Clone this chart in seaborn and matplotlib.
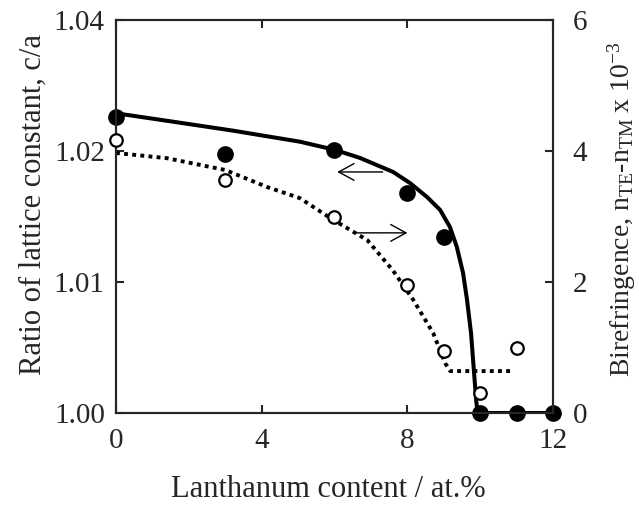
import matplotlib
matplotlib.use("Agg")
import matplotlib.pyplot as plt
import seaborn as sns
import pandas as pd

# --- data ---
la_pts = [0, 3, 6, 8, 9, 10, 11, 12]
ca_pts = [1.0226, 1.0198, 1.0201, 1.0168, 1.0134, 1.000, 1.000, 1.000]

la_open = [0, 3, 6, 8, 9, 10, 11]
biref_pts = [4.17, 3.56, 2.99, 1.95, 0.95, 0.30, 0.99]

# guide curves
la_fit = [0, 1.39, 3.22, 5.05, 6.02, 6.70, 7.61, 8.07, 8.54, 8.90, 9.17, 9.36,
          9.53, 9.64, 9.75, 9.82, 9.89, 9.93, 12]
ca_fit = [1.02288, 1.02231, 1.02155, 1.02071, 1.02008, 1.01947, 1.01840, 1.01756,
          1.01649, 1.01550, 1.01420, 1.01267, 1.01069, 1.00863, 1.00608, 1.00353,
          1.00099, 1.000, 1.000]

la_dot = [0, 1.4, 3.0, 4.15, 5.05, 5.96, 6.9, 7.6, 8.16, 8.71, 9.04, 9.18, 10.9]
biref_dot = [3.97, 3.89, 3.71, 3.45, 3.28, 2.95, 2.64, 2.18, 1.73, 1.22, 0.76, 0.64, 0.64]

x_ticks = [0, 4, 8, 12]
left_ticks = [1.00, 1.01, 1.02, 1.03]
left_ticklabels = ["1.00", "1.01", "1.02", "1.04"]
right_ticks = [0, 2, 4, 6]

sns.set_style("ticks")
plt.rcParams['font.family'] = ['Liberation Serif', 'DejaVu Serif']
plt.rcParams['mathtext.fontset'] = 'custom'
plt.rcParams['mathtext.rm'] = 'Liberation Serif'
plt.rcParams['mathtext.it'] = 'Liberation Serif:italic'

fig = plt.figure(figsize=(6.39, 5.05), dpi=100)
ax = fig.add_axes([0.1815, 0.1822, 0.6839, 0.7782])
ax2 = ax.twinx()

fit_df = pd.DataFrame({"x": la_fit, "y": ca_fit})
dot_df = pd.DataFrame({"x": la_dot, "y": biref_dot})

sns.lineplot(data=fit_df, x="x", y="y", ax=ax, color="black", lw=2.9,
             sort=False, estimator=None)
ax.scatter(la_pts, ca_pts, s=11**2, color="black", zorder=5, clip_on=False)

sns.lineplot(data=dot_df, x="x", y="y", ax=ax2, color="black", lw=2.8,
             sort=False, estimator=None, linestyle=(0, (1, 1.1)))
ax2.scatter(la_open, biref_pts, s=9**2, facecolor="white", edgecolor="black",
            linewidth=1.6, zorder=5, clip_on=False)

ax.annotate("", xy=(6.0, 1.0184), xytext=(7.4, 1.0184),
            arrowprops=dict(arrowstyle="->,head_length=0.55,head_width=0.3",
                            mutation_scale=20, lw=1.0, color="black"))
ax2.annotate("", xy=(8.08, 2.75), xytext=(6.5, 2.75),
             arrowprops=dict(arrowstyle="->,head_length=0.55,head_width=0.3",
                             mutation_scale=20, lw=1.0, color="black"))

ax.set_xlim(0, 12)
ax.set_ylim(1.00, 1.03)
ax2.set_ylim(0, 6)
ax.set_xticks(x_ticks)
ax.set_yticks(left_ticks)
ax.set_yticklabels(left_ticklabels)
ax2.set_yticks(right_ticks)

for a in (ax, ax2):
    for s in a.spines.values():
        s.set_linewidth(1.5)
        s.set_visible(True)
    a.tick_params(direction="in", length=6, width=1.5, labelsize=21)
ax.tick_params(axis="x", top=True, pad=11)
ax.tick_params(axis="y", right=False, pad=8)
ax2.tick_params(axis="y", left=False, pad=14)

ax.set_xlabel("Lanthanum content / at.%", fontsize=22)
ax.set_ylabel("Ratio of lattice constant, c/a", fontsize=22)
ax2.set_ylabel(r"Birefringence, n$_{\rm TE}$-n$_{\rm TM}$ x 10$^{-3}$", fontsize=20)
ax.xaxis.set_label_coords(0.486, -0.158)
ax.yaxis.set_label_coords(-0.156, 0.53)
ax2.yaxis.set_label_coords(1.121, 0.518)

fig.savefig("out.png", dpi=100)
